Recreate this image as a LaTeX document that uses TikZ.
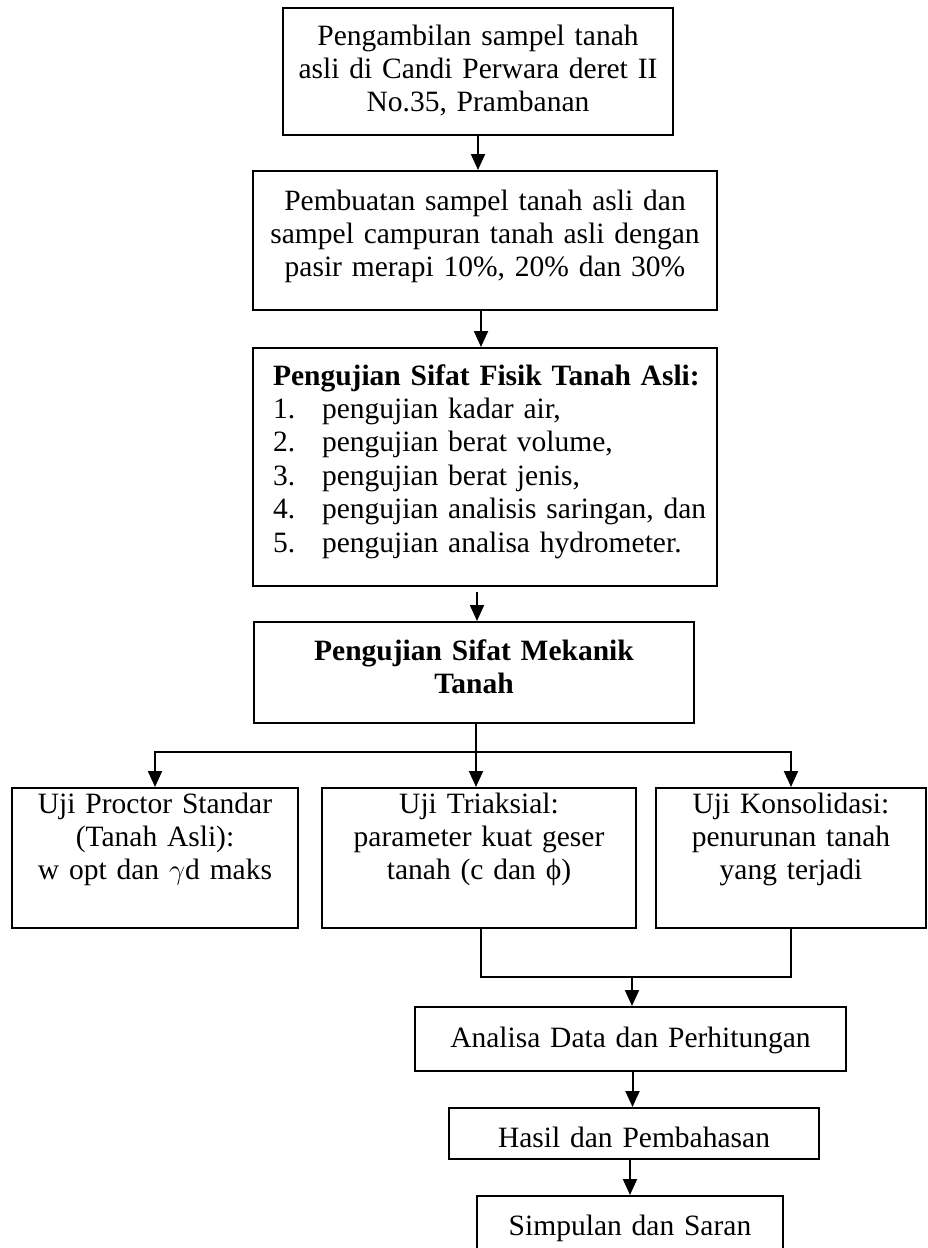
\documentclass[tikz,border=0pt]{standalone}
\usepackage{fontspec}
\setmainfont{Liberation Serif}
\usetikzlibrary{arrows.meta}

\begin{document}
\begin{tikzpicture}[x=0.5pt,y=-0.5pt,line width=1pt,
	>={Triangle[length=8pt,width=7pt]},
	kotak/.style={draw,inner sep=0pt,align=center,font=\fontsize{14.75pt}{16.7pt}\selectfont}]
	
	\useasboundingbox (0,0) rectangle (927,1248);
	
	\node [kotak,text width=195pt,text height=18.5pt,text depth=45pt] (ambil) at (478,71.5) {Pengambilan sampel tanah\\asli di Candi Perwara deret II\\No.35, Prambanan};
	
	\node [kotak,text width=232pt,text height=19.5pt,text depth=50pt] (buat) at (485,240.5) {Pembuatan sampel tanah asli dan\\sampel campuran tanah asli dengan\\pasir merapi 10\%, 20\% dan 30\%};
	
	\node [kotak,align=left,inner xsep=10pt,text width=212pt,text height=18.5pt,text depth=100.5pt] (fisik) at (485,467) {\mbox{\bfseries Pengujian Sifat Fisik Tanah Asli:}\\
		\mbox{\makebox[24.5pt][l]{1.}pengujian kadar air,}\\
		\mbox{\makebox[24.5pt][l]{2.}pengujian berat volume,}\\
		\mbox{\makebox[24.5pt][l]{3.}pengujian berat jenis,}\\
		\mbox{\makebox[24.5pt][l]{4.}pengujian analisis saringan, dan}\\
		\mbox{\makebox[24.5pt][l]{5.}pengujian analisa hydrometer.}};
	
	\node [kotak,text width=220pt,text height=19pt,text depth=31.5pt] (mekanik) at (474,672.5) {{\bfseries Pengujian Sifat Mekanik\\Tanah}};
	
	\node [kotak,text width=143pt,text height=12.5pt,text depth=57.5pt] (proctor) at (155,858) {Uji Proctor Standar\\(Tanah Asli):\\w opt dan $\gamma$d maks};
	
	\node [kotak,text width=157pt,text height=12.5pt,text depth=57.5pt] (triaksial) at (479,858) {Uji Triaksial:\\parameter kuat geser\\tanah (c dan ϕ)};
	
	\node [kotak,text width=135pt,text height=12.5pt,text depth=57.5pt] (konsolidasi) at (791,858) {Uji Konsolidasi:\\penurunan tanah\\yang terjadi};
	
	\node [kotak,text width=215.5pt,text height=20pt,text depth=12pt] (analisa) at (630.5,1039) {Analisa Data dan Perhitungan};
	
	\node [kotak,text width=185pt,text height=19.5pt,text depth=6pt] (hasil) at (634,1133.5) {Hasil dan Pembahasan};
	
	\node [kotak,text width=153pt,text height=19.5pt,text depth=13.5pt] (simpulan) at (630,1229) {Simpulan dan Saran};
	
	\coordinate (cabang) at (476,752);
	\coordinate (gabung) at (632,977);
	
	\draw [->] (ambil.south) -- (ambil.south |- buat.north);
	
	\draw [->] ([xshift=-2pt]buat.south) -- ([xshift=-2pt]buat.south |- fisik.north);
	
	\draw [->] ([xshift=-4pt,yshift=-2.5pt]fisik.south) -- ([xshift=-4pt]fisik.south |- mekanik.north);
	
	\draw [->] ([xshift=1pt]mekanik.south) -- ([xshift=1pt]mekanik.south |- triaksial.north);
	
	\draw [->] (cabang) -| (proctor.north);
	
	\draw [->] (cabang) -| (konsolidasi.north);
	
	\draw ([xshift=1pt]triaksial.south) |- (gabung) -| (konsolidasi.south);
	
	\draw [->] (gabung) -- (gabung |- analisa.north);
	
	\draw [->] ([xshift=1pt]analisa.south) -- ([xshift=1pt]analisa.south |- hasil.north);
	
	\draw [->] (hasil.south -| simpulan.north) -- (simpulan.north);
	
\end{tikzpicture}
\end{document}
